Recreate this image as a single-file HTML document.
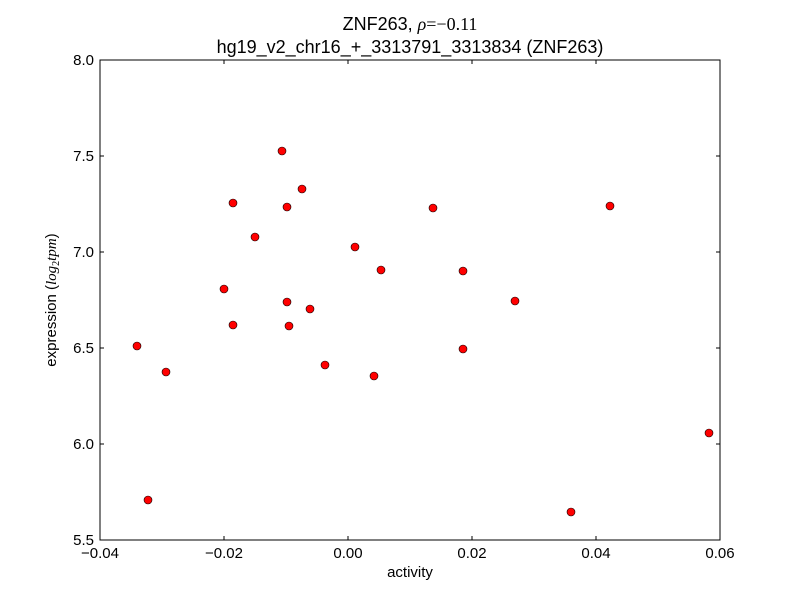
<!DOCTYPE html>
<html><head><meta charset="utf-8"><style>body{margin:0;background:#fff}</style></head><body>
<svg width="800" height="600" xmlns="http://www.w3.org/2000/svg" font-family="Liberation Sans, DejaVu Sans, sans-serif">
<rect width="800" height="600" fill="#fff"/>
<g fill="#f00" stroke="#000" stroke-width="0.6">
<circle cx="137" cy="346" r="4"/><circle cx="148" cy="500" r="4"/><circle cx="166" cy="372" r="4"/>
<circle cx="224" cy="289" r="4"/><circle cx="233" cy="203" r="4"/><circle cx="233" cy="325" r="4"/>
<circle cx="255" cy="237" r="4"/><circle cx="282" cy="151" r="4"/><circle cx="287" cy="207" r="4"/>
<circle cx="287" cy="302" r="4"/><circle cx="289" cy="326" r="4"/><circle cx="302" cy="189" r="4"/>
<circle cx="310" cy="309" r="4"/><circle cx="325" cy="365" r="4"/><circle cx="355" cy="247" r="4"/>
<circle cx="374" cy="376" r="4"/><circle cx="381" cy="270" r="4"/><circle cx="433" cy="208" r="4"/>
<circle cx="463" cy="271" r="4"/><circle cx="463" cy="349" r="4"/><circle cx="515" cy="301" r="4"/>
<circle cx="571" cy="512" r="4"/><circle cx="610" cy="206" r="4"/><circle cx="709" cy="433" r="4"/>
</g>
<rect x="100" y="60" width="620" height="480" fill="none" stroke="#000" stroke-width="1"/>
<g stroke="#000" stroke-width="1">
<line x1="100" y1="540" x2="100" y2="536"/><line x1="224" y1="540" x2="224" y2="536"/><line x1="348" y1="540" x2="348" y2="536"/><line x1="472" y1="540" x2="472" y2="536"/><line x1="596" y1="540" x2="596" y2="536"/><line x1="720" y1="540" x2="720" y2="536"/>
<line x1="100" y1="60" x2="100" y2="64"/><line x1="224" y1="60" x2="224" y2="64"/><line x1="348" y1="60" x2="348" y2="64"/><line x1="472" y1="60" x2="472" y2="64"/><line x1="596" y1="60" x2="596" y2="64"/><line x1="720" y1="60" x2="720" y2="64"/>
<line x1="100" y1="60" x2="104" y2="60"/><line x1="100" y1="156" x2="104" y2="156"/><line x1="100" y1="252" x2="104" y2="252"/><line x1="100" y1="348" x2="104" y2="348"/><line x1="100" y1="444" x2="104" y2="444"/><line x1="100" y1="540" x2="104" y2="540"/>
<line x1="720" y1="60" x2="716" y2="60"/><line x1="720" y1="156" x2="716" y2="156"/><line x1="720" y1="252" x2="716" y2="252"/><line x1="720" y1="348" x2="716" y2="348"/><line x1="720" y1="444" x2="716" y2="444"/><line x1="720" y1="540" x2="716" y2="540"/>
</g>
<g font-size="15" text-anchor="middle">
<text x="100" y="558">−0.04</text><text x="224" y="558">−0.02</text><text x="348" y="558">0.00</text><text x="472" y="558">0.02</text><text x="596" y="558">0.04</text><text x="720" y="558">0.06</text>
</g>
<g font-size="15" text-anchor="end">
<text x="94" y="65">8.0</text><text x="94" y="161">7.5</text><text x="94" y="257">7.0</text><text x="94" y="353">6.5</text><text x="94" y="449">6.0</text><text x="94" y="545">5.5</text>
</g>
<text x="410" y="577" font-size="15" text-anchor="middle">activity</text>
<text transform="translate(56,300) rotate(-90)" font-size="15" text-anchor="middle">expression (<tspan font-style="italic" font-family="Liberation Serif, serif">log</tspan><tspan font-size="10" dy="3" font-family="Liberation Serif, serif">2</tspan><tspan dy="-3" font-style="italic" font-family="Liberation Serif, serif">tpm</tspan>)</text>
<text x="410" y="30" font-size="18" text-anchor="middle">ZNF263, <tspan font-style="italic" font-family="Liberation Serif, serif">ρ</tspan><tspan font-family="Liberation Serif, serif">=−0.11</tspan></text>
<text x="410" y="53" font-size="18" text-anchor="middle">hg19_v2_chr16_+_3313791_3313834 (ZNF263)</text>
</svg>
</body></html>
